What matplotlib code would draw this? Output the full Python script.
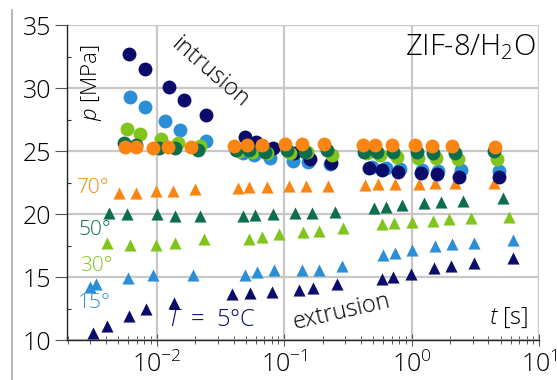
import numpy as np
import matplotlib
matplotlib.use("Agg")
import matplotlib.pyplot as plt
from matplotlib.lines import Line2D
from matplotlib.ticker import LogLocator, NullFormatter, MultipleLocator

plt.rcParams['font.family'] = ['Open Sans', 'DejaVu Sans']
plt.rcParams['font.weight'] = 'light'
plt.rcParams['mathtext.fontset'] = 'custom'
plt.rcParams['mathtext.rm'] = 'Open Sans:light'
plt.rcParams['mathtext.it'] = 'Open Sans:italic:light'

temps = [5, 15, 30, 50, 70]
colors = {5: '#0b0b6b', 15: '#2b8fd8', 30: '#80c41c', 50: '#0d6e4e', 70: '#fb8512'}

# intrusion (circles): time [s], pressure [MPa]
t_in = {
    5:  [0.00603, 0.00805, 0.0124, 0.0163, 0.0242, 0.0490, 0.0597, 0.0812, 0.119, 0.158, 0.232,
         0.460, 0.582, 0.777, 1.177, 1.570, 2.34, 4.81],
    15: [0.00614, 0.00805, 0.0116, 0.0151, 0.0242, 0.0473, 0.0576, 0.0769, 0.117, 0.153, 0.227,
         0.485, 0.625, 0.805, 1.198, 1.599, 2.42, 4.81],
    30: [0.00581, 0.00736, 0.0108, 0.0146, 0.0217, 0.0440, 0.0556, 0.0729, 0.110, 0.150, 0.236,
         0.444, 0.561, 0.763, 1.114, 1.542, 2.30, 4.64],
    50: [0.00551, 0.00684, 0.0104, 0.0138, 0.0210, 0.0417, 0.0527, 0.0703, 0.106, 0.145, 0.216,
         0.420, 0.531, 0.710, 1.094, 1.462, 2.17, 4.40],
    70: [0.00561, 0.00684, 0.00931, 0.0122, 0.0185, 0.0402, 0.0508, 0.0667, 0.101, 0.137, 0.204,
         0.413, 0.513, 0.697, 1.056, 1.435, 2.06, 4.48],
}
p_in = {
    5:  [32.70, 31.51, 30.08, 29.05, 27.86, 26.11, 25.71, 25.24, 24.84, 24.37, 24.05,
         23.65, 23.49, 23.33, 23.25, 23.17, 22.94, 22.94],
    15: [29.29, 28.49, 27.38, 26.67, 25.79, 24.84, 24.68, 24.44, 24.21, 24.13, 23.97,
         23.73, 23.65, 23.57, 23.49, 23.41, 23.49, 23.41],
    30: [26.75, 26.35, 25.95, 25.63, 25.40, 25.00, 24.92, 24.84, 24.84, 24.92, 24.68,
         24.84, 24.68, 24.52, 24.44, 24.44, 24.37, 24.37],
    50: [25.63, 25.48, 25.24, 25.24, 25.08, 25.08, 25.08, 24.92, 25.08, 24.92, 25.08,
         24.92, 24.92, 24.92, 24.92, 24.84, 24.84, 25.00],
    70: [25.32, 25.32, 25.24, 25.32, 25.32, 25.40, 25.48, 25.48, 25.56, 25.56, 25.56,
         25.48, 25.48, 25.48, 25.48, 25.40, 25.40, 25.32],
}

# extrusion (triangles)
t_ex = {
    5:  [0.00315, 0.00405, 0.00603, 0.00820, 0.0136, 0.0388, 0.0536, 0.0798, 0.130, 0.167, 0.258,
         0.582, 0.710, 0.982, 1.488, 2.02, 3.07, 6.20],
    15: [0.00298, 0.00332, 0.00593, 0.00931, 0.0192, 0.0490, 0.0608, 0.0827, 0.137, 0.187, 0.283,
         0.593, 0.735, 1.000, 1.515, 2.06, 3.07, 6.20],
    30: [0.00405, 0.00614, 0.00982, 0.0138, 0.0234, 0.0527, 0.0667, 0.0905, 0.140, 0.187, 0.288,
         0.582, 0.722, 1.000, 1.462, 1.950, 2.90, 5.77],
    50: [0.00420, 0.00581, 0.0100, 0.0138, 0.0217, 0.0473, 0.0587, 0.0812, 0.121, 0.164, 0.249,
         0.503, 0.625, 0.835, 1.242, 1.687, 2.51, 5.17],
    70: [0.00504, 0.00684, 0.00982, 0.0133, 0.0199, 0.0432, 0.0527, 0.0729, 0.108, 0.148, 0.219,
         0.428, 0.541, 0.735, 1.135, 1.515, 2.17, 4.40],
}
p_ex = {
    5:  [10.56, 11.11, 11.90, 12.46, 12.94, 13.65, 13.73, 13.81, 13.97, 14.13, 14.44,
         14.84, 15.00, 15.24, 15.71, 15.87, 16.11, 16.51],
    15: [14.21, 14.44, 14.92, 15.16, 15.16, 15.16, 15.40, 15.56, 15.56, 15.56, 15.87,
         16.75, 16.90, 17.14, 17.46, 17.62, 17.70, 17.94],
    30: [17.70, 17.54, 17.54, 17.70, 18.02, 18.02, 18.17, 18.41, 18.57, 18.65, 18.89,
         19.21, 19.29, 19.37, 19.44, 19.60, 19.68, 19.76],
    50: [20.08, 20.00, 20.00, 19.84, 19.84, 19.84, 19.92, 20.00, 20.08, 20.08, 20.16,
         20.48, 20.56, 20.71, 20.87, 20.95, 21.03, 21.27],
    70: [21.67, 21.67, 21.83, 21.83, 21.98, 22.06, 22.14, 22.14, 22.22, 22.22, 22.22,
         22.30, 22.38, 22.38, 22.38, 22.46, 22.46, 22.46],
}

fig = plt.figure(figsize=(5.57, 3.8), dpi=100)
ax = fig.add_axes([0.120, 0.105, 0.848, 0.829])

# triangles first, circles drawn in overlap order
for T in [5, 15, 30, 50, 70]:
    ax.scatter(t_ex[T], p_ex[T], marker='^', s=76, color=colors[T], lw=0, zorder=3)
for T in [15, 5, 30, 50, 70]:
    ax.scatter(t_in[T], p_in[T], marker='o', s=100, color=colors[T], lw=0, zorder=4)

ax.set_xscale('log')
ax.set_xlim(0.00197, 10)
ax.set_ylim(10, 35)
ax.yaxis.set_major_locator(MultipleLocator(5))
ax.yaxis.set_minor_locator(MultipleLocator(2.5))
ax.xaxis.set_major_locator(LogLocator(base=10))
ax.xaxis.set_minor_locator(LogLocator(base=10, subs=np.arange(2, 10)))
ax.xaxis.set_minor_formatter(NullFormatter())

ax.grid(True, which='major', color='#c8c8c8', lw=1.6)
ax.set_axisbelow(True)
for s in ['top', 'right']:
    ax.spines[s].set_visible(False)
for s in ['left', 'bottom']:
    ax.spines[s].set_color('#222222')
    ax.spines[s].set_linewidth(1.0)

ax.tick_params(axis='y', which='major', direction='out', length=9, width=0.8,
               color='#555555', labelsize=18, pad=2)
ax.tick_params(axis='y', which='minor', direction='in', length=3, width=0.8, color='#333333')
ax.tick_params(axis='x', which='major', direction='inout', length=9, width=0.8,
               color='#555555', labelsize=18, pad=4)
ax.tick_params(axis='x', which='minor', direction='inout', length=6, width=0.7, color='#555555')

# labels and annotations (axes-fraction positions)
tr = ax.transAxes
ax.text(0.053, 0.819, r'$p$ [MPa]', rotation=90, fontsize=16, ha='center', va='center', transform=tr)
ax.text(0.303, 0.851, 'intrusion', rotation=-41, fontsize=17, ha='center', va='center',
        transform=tr, rotation_mode='anchor')
ax.text(0.583, 0.089, 'extrusion', rotation=13, fontsize=17, ha='center', va='center',
        transform=tr, rotation_mode='anchor')
ax.text(0.977, 0.072, r'$t$ [s]', fontsize=17, ha='right', va='center', transform=tr)
ax.text(0.992, 0.930, r'ZIF-8/H$_2$O', fontsize=21, ha='right', va='center', transform=tr)

label_pos = {70: (0.022, 0.483), 50: (0.024, 0.349), 30: (0.027, 0.235), 15: (0.024, 0.117)}
for T, (x, y) in label_pos.items():
    ax.text(x, y, f'{T}°', color=colors[T], fontsize=15, ha='left', va='center', transform=tr)
ax.text(0.212, 0.063, r'$T$  =  5°C', color=colors[5], fontsize=17, ha='left', va='center',
        transform=tr)

# thin frame line at the left edge of the picture
fig.add_artist(Line2D([12 / 557, 12 / 557], [0, 1 - 10 / 380], color='#aaaaaa', lw=1.2))

fig.savefig('out.png', dpi=100)
